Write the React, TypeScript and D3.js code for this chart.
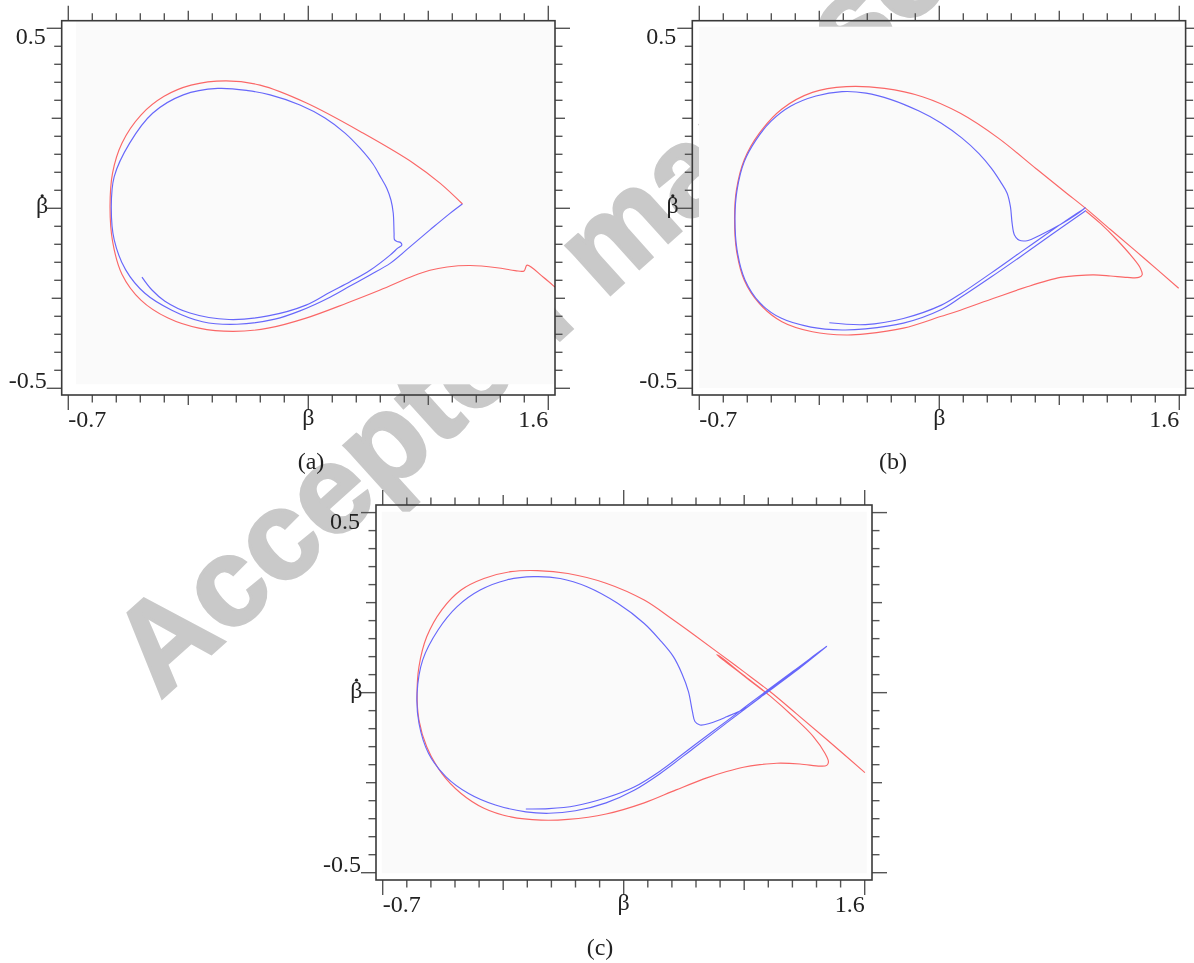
import React from 'react';
import * as d3 from 'd3';

type Pt = [number, number];

// Phase trajectories, (β, β̇) samples.
const redA: Pt[] = [
  [1.632, -0.219], [1.575, -0.191], [1.498, -0.158], [1.484, -0.174], [1.441, -0.173], [1.354, -0.165],
  [1.225, -0.159], [1.115, -0.163], [1.033, -0.172], [0.952, -0.188], [0.794, -0.227], [0.636, -0.263],
  [0.439, -0.305], [0.257, -0.333], [0.089, -0.342], [-0.074, -0.333], [-0.222, -0.305], [-0.352, -0.255],
  [-0.443, -0.183], [-0.488, -0.091], [-0.5, 0.004], [-0.488, 0.098], [-0.443, 0.181], [-0.352, 0.259],
  [-0.241, 0.311], [-0.112, 0.342], [0.056, 0.354], [0.219, 0.342], [0.439, 0.293], [0.712, 0.209],
  [0.952, 0.126], [1.081, 0.07], [1.189, 0.012],
];

const blueA: Pt[] = [
  [-0.347, -0.191], [-0.299, -0.227], [-0.237, -0.258], [-0.117, -0.291], [0.07, -0.309], [0.257, -0.299],
  [0.439, -0.269], [0.554, -0.233], [0.65, -0.204], [0.746, -0.172], [0.842, -0.13], [0.88, -0.11],
  [0.898, -0.102], [0.892, -0.095], [0.875, -0.092], [0.863, -0.087], [0.861, -0.069], [0.857, -0.013],
  [0.846, 0.023], [0.826, 0.056], [0.799, 0.084], [0.76, 0.123], [0.698, 0.167], [0.626, 0.209],
  [0.53, 0.251], [0.41, 0.287], [0.267, 0.315], [0.161, 0.327], [0.016, 0.333], [-0.149, 0.315],
  [-0.296, 0.264], [-0.406, 0.181], [-0.48, 0.088], [-0.494, 0.004], [-0.48, -0.088], [-0.425, -0.171],
  [-0.333, -0.236], [-0.204, -0.283], [-0.057, -0.315], [0.108, -0.322], [0.29, -0.308], [0.41, -0.285],
  [0.554, -0.247], [0.65, -0.216], [0.746, -0.185], [0.842, -0.153], [0.937, -0.107], [1.033, -0.06],
  [1.129, -0.014], [1.188, 0.012],
];

const redB: Pt[] = [
  [1.153, -0.008], [1.222, -0.042], [1.302, -0.088], [1.374, -0.135], [1.414, -0.167], [1.422, -0.185],
  [1.406, -0.192], [1.35, -0.192], [1.27, -0.188], [1.19, -0.185], [1.11, -0.187], [1.03, -0.192],
  [0.871, -0.218], [0.711, -0.25], [0.551, -0.283], [0.46, -0.3], [0.278, -0.333], [0.096, -0.349],
  [0.005, -0.352], [-0.158, -0.343], [-0.304, -0.315], [-0.413, -0.264], [-0.485, -0.199], [-0.522, -0.116],
  [-0.531, -0.023], [-0.522, 0.051], [-0.485, 0.134], [-0.413, 0.208], [-0.304, 0.276], [-0.158, 0.322],
  [0.005, 0.338], [0.187, 0.333], [0.369, 0.31], [0.551, 0.264], [0.733, 0.195], [0.914, 0.11],
  [1.06, 0.042], [1.153, -0.001], [1.27, -0.059], [1.43, -0.138], [1.597, -0.222],
];

const blueB: Pt[] = [
  [-0.077, -0.318], [0.096, -0.323], [0.278, -0.306], [0.46, -0.269], [0.551, -0.238], [0.698, -0.18],
  [0.842, -0.121], [0.985, -0.063], [1.15, 0.002], [1.11, -0.016], [1.03, -0.045], [0.935, -0.074],
  [0.871, -0.09], [0.831, -0.088], [0.81, -0.074], [0.799, -0.042], [0.791, 0.004], [0.775, 0.042],
  [0.743, 0.074], [0.7, 0.111], [0.64, 0.152], [0.559, 0.195], [0.458, 0.237], [0.353, 0.27],
  [0.219, 0.302], [0.099, 0.32], [-0.016, 0.324], [-0.141, 0.312], [-0.261, 0.284], [-0.356, 0.242],
  [-0.428, 0.19], [-0.485, 0.129], [-0.519, 0.051], [-0.529, -0.024], [-0.519, -0.116], [-0.481, -0.199],
  [-0.409, -0.263], [-0.309, -0.305], [-0.165, -0.33], [-0.016, -0.338], [0.096, -0.335], [0.278, -0.319],
  [0.46, -0.281], [0.551, -0.248], [0.698, -0.191], [0.842, -0.133], [0.985, -0.074], [1.153, -0.006],
];

const redC: Pt[] = [
  [1.116, 0.005], [1.005, 0.055], [0.894, 0.105], [0.903, 0.103], [1.021, 0.049], [1.148, -0.009],
  [1.26, -0.067], [1.355, -0.122], [1.411, -0.169], [1.427, -0.192], [1.419, -0.202], [1.387, -0.204],
  [1.291, -0.198], [1.18, -0.196], [1.1, -0.2], [1.021, -0.207], [0.941, -0.219], [0.85, -0.236],
  [0.7, -0.27], [0.548, -0.306], [0.366, -0.337], [0.184, -0.352], [0.056, -0.354], [-0.089, -0.345],
  [-0.217, -0.321], [-0.326, -0.28], [-0.418, -0.224], [-0.49, -0.15], [-0.527, -0.076], [-0.536, -0.002],
  [-0.527, 0.072], [-0.49, 0.155], [-0.418, 0.23], [-0.326, 0.285], [-0.217, 0.317], [-0.089, 0.336],
  [0.038, 0.339], [0.184, 0.331], [0.366, 0.304], [0.548, 0.257], [0.679, 0.205], [0.782, 0.162],
  [0.894, 0.114], [1.021, 0.059], [1.148, 0.003], [1.275, -0.059], [1.419, -0.13], [1.601, -0.222],
];

const blueC: Pt[] = [
  [-0.017, -0.323], [0.093, -0.322], [0.22, -0.314], [0.366, -0.292], [0.5, -0.262], [0.623, -0.218],
  [0.782, -0.148], [0.941, -0.079], [1.1, -0.009], [1.26, 0.06], [1.419, 0.129], [1.26, 0.057],
  [1.148, 0.009], [1.085, -0.02], [1.037, -0.041], [0.941, -0.067], [0.862, -0.085], [0.814, -0.09],
  [0.79, -0.08], [0.778, -0.053], [0.759, 0.003], [0.727, 0.054], [0.687, 0.1], [0.623, 0.146],
  [0.548, 0.192], [0.421, 0.248], [0.275, 0.294], [0.147, 0.317], [0.02, 0.322], [-0.108, 0.313],
  [-0.235, 0.285], [-0.345, 0.239], [-0.436, 0.174], [-0.509, 0.091], [-0.536, -0.002], [-0.527, -0.085],
  [-0.481, -0.169], [-0.399, -0.233], [-0.29, -0.28], [-0.162, -0.312], [-0.017, -0.331], [0.093, -0.335],
  [0.22, -0.328], [0.366, -0.306], [0.5, -0.271], [0.623, -0.225], [0.782, -0.155], [0.941, -0.084],
  [1.1, -0.014], [1.26, 0.055], [1.419, 0.129],
];

const xDomain: [number, number] = [-0.7, 1.6];
const yDomain: [number, number] = [-0.5, 0.5];
const xTickLabels = ['-0.7', '1.6'];
const yTickLabels = ['0.5', '-0.5'];
const captions = ['(a)', '(b)', '(c)'];
const xAxisTitle = 'β';
const yAxisTitle = 'β';
const watermark = 'Accepted manuscript';

const TICK_STEPS = 20;
const SERIF = '"Liberation Serif", "Times New Roman", serif';

interface Layout {
  left: number; top: number; width: number; height: number;
  padL: number; padR: number; padT: number; padB: number;
  shade: { l: number; t: number; r: number; b: number };
  cap: [number, number];
}

const layouts: Layout[] = [
  { left: 61.7, top: 20.7, width: 493.3, height: 374.3, padL: 6.6, padR: 6.7, padT: 7.6, padB: 6.7,
    shade: { l: 14.3, t: 0.5, r: 0.5, b: 10.7 }, cap: [311, 469] },
  { left: 692.3, top: 20.7, width: 493.3, height: 374.3, padL: 7, padR: 6.3, padT: 7.6, padB: 6.7,
    shade: { l: 6.7, t: 6, r: 2, b: 7 }, cap: [893, 469] },
  { left: 376, top: 505, width: 496, height: 375, padL: 6.7, padR: 7.3, padT: 7.6, padB: 7.3,
    shade: { l: 5.7, t: 6.7, r: 5.3, b: 6.7 }, cap: [600, 955] },
];

const series: { red: Pt[]; blue: Pt[] }[] = [
  { red: redA, blue: blueA },
  { red: redB, blue: blueB },
  { red: redC, blue: blueC },
];

function tickLen(k: number): number {
  if (k % 10 === 0) return 15;
  if (k % 5 === 0) return 10;
  return 7.5;
}

function Panel({ idx }: { idx: number }) {
  const L = layouts[idx];
  const { red, blue } = series[idx];
  const x = d3.scaleLinear().domain(xDomain).range([L.left + L.padL, L.left + L.width - L.padR]);
  const y = d3.scaleLinear().domain([yDomain[1], yDomain[0]]).range([L.top + L.padT, L.top + L.height - L.padB]);
  const line = d3.line<Pt>().x((d) => x(d[0])).y((d) => y(d[1])).curve(d3.curveCatmullRom.alpha(0.5));
  const xt = d3.range(TICK_STEPS + 1).map((k) => xDomain[0] + (k * (xDomain[1] - xDomain[0])) / TICK_STEPS);
  const yt = d3.range(TICK_STEPS + 1).map((k) => yDomain[0] + (k * (yDomain[1] - yDomain[0])) / TICK_STEPS);
  const right = L.left + L.width;
  const bottom = L.top + L.height;
  const clipId = `clip-${idx}`;
  const tickStroke = '#555';
  const betaRight = L.left - 13.5;
  return (
    <g>
      <defs>
        <clipPath id={clipId}>
          <rect x={L.left} y={L.top} width={L.width} height={L.height} />
        </clipPath>
      </defs>
      <rect
        x={L.left + L.shade.l}
        y={L.top + L.shade.t}
        width={L.width - L.shade.l - L.shade.r}
        height={L.height - L.shade.t - L.shade.b}
        fill="#fafafa"
      />
      {xt.map((v, k) => (
        <g key={`xt${k}`} stroke={tickStroke} strokeWidth={1.4}>
          <line x1={x(v)} x2={x(v)} y1={L.top} y2={L.top - tickLen(k)} />
          <line x1={x(v)} x2={x(v)} y1={bottom} y2={bottom + tickLen(k)} />
        </g>
      ))}
      {yt.map((v, k) => (
        <g key={`yt${k}`} stroke={tickStroke} strokeWidth={1.4}>
          <line x1={L.left} x2={L.left - tickLen(k)} y1={y(v)} y2={y(v)} />
          <line x1={right} x2={right + tickLen(k)} y1={y(v)} y2={y(v)} />
        </g>
      ))}
      <rect x={L.left} y={L.top} width={L.width} height={L.height} fill="none" stroke="#3a3a3a" strokeWidth={1.6} />
      <g clipPath={`url(#${clipId})`} style={{ mixBlendMode: 'multiply' }}>
        <path d={line(red) || ''} fill="none" stroke="rgb(255,105,105)" strokeWidth={1.15} />
        <path d={line(blue) || ''} fill="none" stroke="rgb(105,105,255)" strokeWidth={1.15} />
      </g>
      <g fontFamily={SERIF} fontSize={24} fill="#222">
        <text x={L.left - 16} y={y(yDomain[1]) + 16} textAnchor="end">{yTickLabels[0]}</text>
        <text x={L.left - 15} y={y(yDomain[0]) - 0.5} textAnchor="end">{yTickLabels[1]}</text>
        <text x={x(xDomain[0])} y={bottom + 32} textAnchor="start">{xTickLabels[0]}</text>
        <text x={x(xDomain[1])} y={bottom + 32} textAnchor="end">{xTickLabels[1]}</text>
        <text x={x((xDomain[0] + xDomain[1]) / 2)} y={bottom + 30} textAnchor="middle">{xAxisTitle}</text>
        <text x={betaRight} y={y(0) + 5} textAnchor="end">{yAxisTitle}</text>
        <text x={L.cap[0]} y={L.cap[1]} textAnchor="middle">{captions[idx]}</text>
      </g>
      {/* time-derivative dot over the vertical axis symbol */}
      <circle cx={betaRight - 6} cy={y(0) - 12.5} r={1.6} fill="#222" />
    </g>
  );
}

export default function App() {
  return (
    <svg
      width={1194}
      height={963}
      viewBox="0 0 1194 963"
      style={{ position: 'absolute', left: 0, top: 0, background: '#fff' }}
    >
      <rect x={0} y={0} width={1194} height={963} fill="#fff" />
      <text
        x={160}
        y={700}
        transform="rotate(-42 160 700)"
        fontFamily='"Liberation Sans", Arial, sans-serif'
        fontWeight="bold"
        fontSize={125}
        fill="#c9c9c9"
        stroke="#c9c9c9"
        strokeWidth={3}
      >
        {watermark}
      </text>
      {layouts.map((_, i) => (
        <Panel key={i} idx={i} />
      ))}
    </svg>
  );
}
